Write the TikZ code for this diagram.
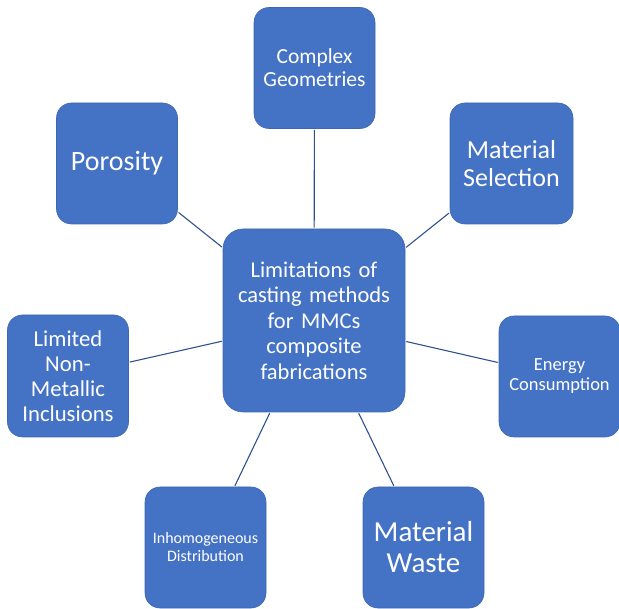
\documentclass[tikz,border=0pt]{standalone}
\usepackage{fontspec}
\setmainfont{Carlito}
\usepackage{xcolor}
\usepackage{tikz}
\usetikzlibrary{positioning}
\definecolor{boxblue}{HTML}{4472C4}
\definecolor{edgeblue}{HTML}{2F528F}

\begin{document}
\begin{tikzpicture}[
    x=1pt, y=-1pt,
    item/.style={fill=boxblue, draw=boxblue!90!black, line width=0.6pt, rounded corners=15pt,
        minimum width=121pt, minimum height=121pt, inner sep=0pt, align=center,
        text width=118pt, text=white},
    hub/.style={item, rounded corners=20pt, minimum width=182pt, minimum height=183pt,
        text width=176pt, font=\fontsize{22.5}{25.5}\selectfont},
    edge/.style={draw=edgeblue, line width=1.1pt, shorten <=1pt, shorten >=1pt}
]
\useasboundingbox (0,0) rectangle (619,609);

\node[hub] (limits) at (314,320.5) {Limitations of\\casting methods\\for MMCs\\composite\\fabrications};

\node[item, font=\fontsize{21.5}{23}\selectfont] (complex) at (314.5,68) {Complex\\Geometries};
\node[item, minimum width=123pt, font=\fontsize{26}{28}\selectfont] (selection) at (511.5,163.5) {Material\\Selection};
\node[item, font=\fontsize{28}{31}\selectfont] (porosity) at (117,163.5) {Porosity};
\node[item, minimum height=122pt, font=\fontsize{22.7}{25}\selectfont] (inclusions) at (68,376) {Limited\\Non-\\Metallic\\Inclusions};
\node[item, font=\fontsize{18.5}{20}\selectfont] (energy) at (559.5,376.5) {Energy\\Consumption};
\node[item, font=\fontsize{16}{18}\selectfont] (inhomog) at (205.5,547.5) {Inhomogeneous\\Distribution};
\node[item, font=\fontsize{29}{31}\selectfont] (waste) at (423.5,547.5) {Material\\Waste};

\foreach \n in {complex,selection,porosity,inclusions,energy,inhomog,waste}
    \draw[edge] (limits) -- (\n);
\end{tikzpicture}
\end{document}
